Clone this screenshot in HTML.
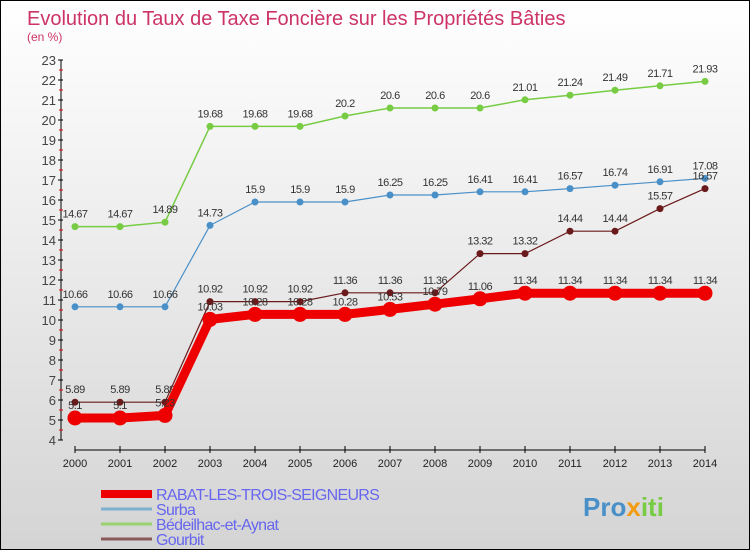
<!DOCTYPE html>
<html><head><meta charset="utf-8"><style>
body{margin:0;width:750px;height:550px;overflow:hidden;font-family:"Liberation Sans",sans-serif}
#wrap{position:absolute;left:0;top:0;width:748px;height:548px;border:1px solid #000;background:linear-gradient(#ffffff,#d4d4d4)}
</style></head><body>
<div id="wrap">
<svg id="chart" width="748" height="548" font-family="Liberation Sans, sans-serif"></svg>
</div>
<script>
const years=[2000,2001,2002,2003,2004,2005,2006,2007,2008,2009,2010,2011,2012,2013,2014];
const yTicks=[4,5,6,7,8,9,10,11,12,13,14,15,16,17,18,19,20,21,22,23];
const rabat=[5.1,5.1,5.23,10.03,10.28,10.28,10.28,10.53,10.79,11.06,11.34,11.34,11.34,11.34,11.34];
const surba=[10.66,10.66,10.66,14.73,15.9,15.9,15.9,16.25,16.25,16.41,16.41,16.57,16.74,16.91,17.08];
const bedeilhac=[14.67,14.67,14.89,19.68,19.68,19.68,20.2,20.6,20.6,20.6,21.01,21.24,21.49,21.71,21.93];
const gourbit=[5.89,5.89,5.89,10.92,10.92,10.92,11.36,11.36,11.36,13.32,13.32,14.44,14.44,15.57,16.57];
const NS="http://www.w3.org/2000/svg";
const svg=document.getElementById('chart');
const X=i=>74+i*45, Y=v=>59+(23-v)*20;
function el(t,a,p){const e=document.createElementNS(NS,t);for(const k in a)e.setAttribute(k,a[k]);(p||svg).appendChild(e);return e;}
let t=el('text',{x:26,y:24,'font-size':20,fill:'#cc3366'});t.textContent='Evolution du Taux de Taxe Foncière sur les Propriétés Bâties';


t=el('text',{x:26,y:40,'font-size':12,fill:'#cc3366'});t.textContent='(en %)';


let ax=el('path',{d:`M60 ${Y(23)}V${Y(4)}`,stroke:'#000',fill:'none'});


let xa=el('path',{d:`M${X(0)} 449H${X(years.length-1)}`,stroke:'#000',fill:'none'});


yTicks.forEach(v=>{el('line',{x1:57,x2:62,y1:Y(v),y2:Y(v),stroke:'#000'});
 if(v<23)el('line',{x1:58,x2:62,y1:Y(v+0.5),y2:Y(v+0.5),stroke:'#e00'});
 const l=el('text',{x:55,y:Y(v)+5,'text-anchor':'end','font-size':13,fill:'#444'});l.textContent=v;
 
 });
years.forEach((yr,i)=>{el('line',{x1:X(i),x2:X(i),y1:445,y2:452,stroke:'#000'});
 const l=el('text',{x:X(i),y:466,'text-anchor':'middle','font-size':11,fill:'#222'});l.textContent=yr;
 
 });
function series(d,color,w,r,name){
 const g=el('g',{});
 
 
 el('polyline',{points:d.map((v,i)=>X(i)+','+Y(v)).join(' '),fill:'none',stroke:color,'stroke-width':w},g);
 d.forEach((v,i)=>{const c=el('circle',{cx:X(i),cy:Y(v),r:r,fill:color},g);
  
  
  const l=el('text',{x:X(i),y:Y(v)-9,'text-anchor':'middle','font-size':11,fill:'#333','letter-spacing':'-0.5'},g);l.textContent=v;
  
  });
}
series(bedeilhac,'#77cc44',1.5,3.5,'bedeilhac-series');
series(surba,'#4a90c8',1.2,3.5,'surba-series');
series(gourbit,'#6a1a1a',1.2,3.5,'gourbit-series');
series(rabat,'#ee0000',9,7.5,'rabat-series');
const leg=[['RABAT-LES-TROIS-SEIGNEURS','#ee0000',8],['Surba','#7fb0d0',3],['Bédeilhac-et-Aynat','#99d070',3],['Gourbit','#8a5a5a',3]];
leg.forEach((L,i)=>{const y=493+i*15;const g=el('g',{});
 
 
 el('line',{x1:100,x2:151,y1:y,y2:y,stroke:L[1],'stroke-width':L[2]},g);
 const l=el('text',{x:155,y:y+6,'font-size':16,fill:'#6666ee','letter-spacing':'-0.7'},g);l.textContent=L[0];});
t=el('text',{x:582,y:515,'font-size':26,'font-weight':'bold',fill:'#4a90c8'});t.innerHTML='Pro<tspan fill="#f39c12">x</tspan><tspan fill="#77cc44">iti</tspan>';


</script>
</body></html>
